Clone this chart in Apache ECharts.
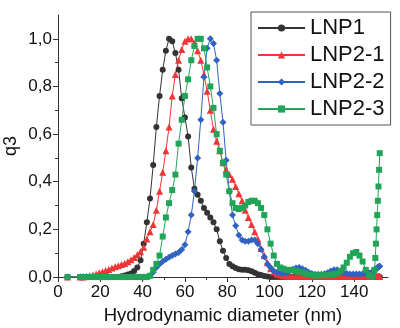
<!DOCTYPE html>
<html><head><meta charset="utf-8">
<script src="https://cdn.jsdelivr.net/npm/echarts@6/dist/echarts.min.js"></script>
<style>html,body{margin:0;padding:0;background:#fff}#c{width:400px;height:328px}</style>
</head><body><div id="c"></div>
<script>
// Hydrodynamic diameter (nm)
const diameters = [4.5,
  10.5,12,13.5,15,16.5,18,19.5,21,22.5,24,
  25.5,27,28.5,30,31.5,33,34.5,36,37.5,39,
  40.5,42,43.5,45,46.5,48,49.5,51,52.5,54,
  55.5,57,58.5,60,61.5,63,64.5,66,67.5,69,
  70.5,72,73.5,75,76.5,78,79.5,81,82.5,84,
  85.5,87,88.5,90,91.5,93,94.5,96,97.5,99,
  100.5,102,103.5,105,106.5,108,109.5,111,112.5,114,
  115.5,117,118.5,120,121.5,123,124.5,126,127.5,129,
  130.5,132,133.5,135,136.5,138,139.5,141,142.5,144,
  145.5,147,148.5,
  149.6,150,150.3,150.6,150.9,151.2,151.5,151.8,152.1];

const lnp1 = [0,
  0,0,0,0,0,0,0,0,0,0,
  0,0,0,0.003,0.006,0.01,0.015,0.025,0.04,0.07,
  0.14,0.23,0.33,0.47,0.63,0.76,0.87,0.95,1.0,0.99,
  0.94,0.87,0.75,0.67,0.59,0.46,0.37,0.345,0.32,0.29,
  0.27,0.25,0.23,0.2,0.15,0.11,0.08,0.055,0.045,0.038,
  0.033,0.03,0.03,0.028,0.024,0.018,0.012,0.008,0.004,0.002,
  0,0,0,0,0,0,0,0,0,0,
  0,0,0,0,0,0,0,0,0,0,
  0,0,0,0,0,0,0,0,0,0,
  0,0,0,
  0,0,0,0,0,0,0,0,0];

const lnp2_1 = [0,
  0,0,0.003,0.005,0.008,0.013,0.018,0.022,0.027,0.032,
  0.038,0.043,0.047,0.052,0.057,0.064,0.072,0.082,0.093,0.106,
  0.125,0.16,0.19,0.22,0.28,0.36,0.44,0.53,0.63,0.76,
  0.85,0.91,0.955,0.99,1.0,1.0,0.98,0.95,0.91,0.85,
  0.78,0.7,0.62,0.57,0.53,0.48,0.45,0.43,0.41,0.38,
  0.35,0.32,0.28,0.25,0.22,0.19,0.16,0.12,0.09,0.06,
  0.035,0.02,0.012,0.008,0.005,0.004,0.003,0.003,0.003,0.003,
  0.003,0.003,0.003,0.003,0.003,0.003,0.003,0.003,0.003,0.003,
  0.003,0.003,0.003,0.003,0.003,0.003,0.003,0.003,0.003,0.003,
  0.003,0.003,0.003,
  0.003,0.003,0.003,0.003,0.003,0.003,0.003,0.003,0.003];

const lnp2_2 = [0,
  0,0,0,0,0,0,0,0,0,0,
  0,0,0,0,0,0,0,0,0,0,
  0,0,0.005,0.02,0.04,0.055,0.065,0.075,0.083,0.09,
  0.097,0.103,0.115,0.135,0.19,0.26,0.36,0.5,0.66,0.84,
  0.96,1.0,0.98,0.91,0.77,0.65,0.49,0.36,0.26,0.215,
  0.175,0.155,0.15,0.15,0.155,0.155,0.14,0.115,0.085,0.055,
  0.04,0.025,0.02,0.017,0.015,0.018,0.025,0.033,0.038,0.04,
  0.035,0.028,0.02,0.015,0.012,0.012,0.012,0.014,0.018,0.025,
  0.03,0.03,0.025,0.018,0.015,0.013,0.013,0.013,0.013,0.014,
  0.015,0.018,0.022,
  0.027,0.03,0.033,0.036,0.039,0.041,0.043,0.044,0.045];

const lnp2_3 = [0,
  0,0,0,0,0,0,0,0,0,0,
  0,0,0,0,0,0,0,0,0,0,
  0,0,0.005,0.03,0.055,0.09,0.17,0.25,0.31,0.365,
  0.43,0.56,0.66,0.76,0.83,0.91,0.97,1.0,1.0,0.96,
  0.88,0.8,0.71,0.6,0.53,0.48,0.43,0.36,0.31,0.29,
  0.285,0.29,0.3,0.315,0.32,0.32,0.31,0.29,0.26,0.2,
  0.14,0.09,0.055,0.04,0.035,0.03,0.03,0.028,0.025,0.022,
  0.02,0.015,0.01,0.008,0.007,0.007,0.007,0.008,0.008,0.01,
  0.012,0.015,0.025,0.04,0.06,0.085,0.1,0.105,0.09,0.065,
  0.03,0.008,0,
  0.03,0.08,0.14,0.2,0.26,0.32,0.38,0.45,0.52];

const seriesNames = ['LNP1','LNP2-1','LNP2-2','LNP2-3'];
const xTicks = [0,20,40,60,80,100,120,140];
const yTicks = [0,0.2,0.4,0.6,0.8,1.0];

const values = [lnp1, lnp2_1, lnp2_2, lnp2_3];
const colors = ['#333333','#ef3535','#2f62c2','#20a558'];
const symbols = ['circle','triangle','diamond','rect'];
const sizes = [6,7,7,6];

const chart = echarts.init(document.getElementById('c'), null, {renderer:'canvas'});
const font = 'Liberation Sans, Arial, sans-serif';
chart.setOption({
  animation:false,
  backgroundColor:'#fff',
  textStyle:{fontFamily:font},
  grid:{left:58,right:12,top:15,bottom:51,containLabel:false,outerBoundsMode:'none'},
  legend:{
    orient:'vertical', left:251, top:12,
    itemWidth:47, itemHeight:9, itemGap:5,
    padding:[5,6,5,6],
    borderColor:'#555', borderWidth:1,
    textStyle:{fontSize:22, color:'#111', fontFamily:font},
    data:seriesNames
  },
  xAxis:{
    type:'value', min:0, max:156, interval:20,
    name:'Hydrodynamic diameter (nm)', nameLocation:'middle', nameGap:29,
    nameMoveOverlap:false,
    nameTextStyle:{fontSize:18.5, color:'#111', fontFamily:font, verticalAlign:'top'},
    axisLine:{show:true, onZero:false, lineStyle:{color:'#333', width:1}},
    axisTick:{show:true, length:5, customValues:xTicks, lineStyle:{color:'#333'}},
    minorTick:{show:true, splitNumber:2, length:3, lineStyle:{color:'#333'}},
    axisLabel:{fontSize:17, color:'#111', margin:7, customValues:xTicks},
    splitLine:{show:false}
  },
  yAxis:{
    type:'value', min:0, max:1.1, interval:0.2,
    name:'q3', nameLocation:'middle', nameGap:38, nameRotate:90,
    nameMoveOverlap:false,
    nameTextStyle:{fontSize:18, color:'#111', fontFamily:font},
    axisLine:{show:true, onZero:false, lineStyle:{color:'#333', width:1}},
    axisTick:{show:true, length:5, customValues:yTicks, lineStyle:{color:'#333'}},
    minorTick:{show:true, splitNumber:2, length:3, lineStyle:{color:'#333'}},
    axisLabel:{fontSize:17, color:'#111', margin:6, customValues:yTicks,
      formatter:v=>v.toFixed(1).replace('.',',')},
    splitLine:{show:false}
  },
  series: seriesNames.map((n,k)=>({
    name:n, type:'line',
    data: diameters.map((d,i)=>[d, values[k][i]]),
    symbol:symbols[k], symbolSize:sizes[k], showAllSymbol:true,
    lineStyle:{width:1, color:colors[k]},
    itemStyle:{color:colors[k]},
    emphasis:{disabled:true}
  }))
});
</script></body></html>
